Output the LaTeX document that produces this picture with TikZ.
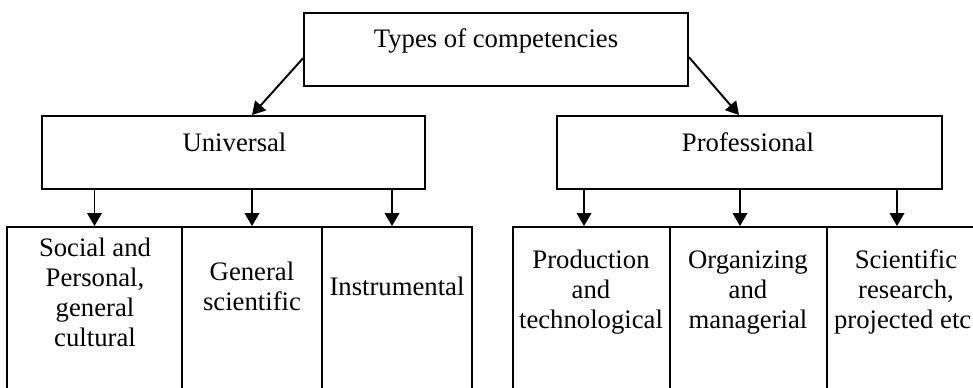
\documentclass[tikz,border=0pt]{standalone}
\usepackage{fontspec}
\setmainfont{Liberation Serif}
\usetikzlibrary{arrows.meta}

\begin{document}
\begin{tikzpicture}[
  x=0.02cm, y=-0.02cm,
  box/.style={rectangle, draw, line width=1.1pt, inner sep=0pt, minimum height=1.46cm},
  cell/.style={rectangle, draw, line width=1.1pt, inner sep=0pt, minimum height=4cm},
  txt/.style={inner sep=0pt, align=center, font=\fontsize{15.2}{17.1}\selectfont},
  arr/.style={-{Triangle[length=2.6mm, width=2.9mm]}, line width=1.1pt}
]
\useasboundingbox (0,0) rectangle (973,388);
\clip (0,0) rectangle (973,388);

% Top level
\node[box, minimum width=7.68cm] (root) at (496,49.2) {};
\node[txt, anchor=base] (rootT) at (496,48) {Types of competencies};

% Two groups
\node[box, minimum width=7.66cm] (uni) at (233.5,152.5) {};
\node[txt, anchor=base] (uniT) at (234.5,152) {Universal};
\node[box, minimum width=7.7cm] (pro) at (749.5,152.5) {};
\node[txt, anchor=base] (proT) at (748,152) {Professional};

% Universal competencies (boxes run past the lower edge)
\node[cell, minimum width=3.5cm] (u1) at (94.5,327) {};
\node[cell, minimum width=2.8cm] (u2) at (252,327) {};
\node[cell, minimum width=3cm] (u3) at (397,327) {};
\node[txt] (u1T) at (95,292) {Social and\\Personal,\\general\\cultural};
\node[txt] (u2T) at (252,286.5) {General\\scientific};
\node[txt, anchor=base] (u3T) at (397,295) {Instrumental};

% Professional competencies
\node[cell, minimum width=3.14cm] (p1) at (591.5,327) {};
\node[cell, minimum width=3.14cm] (p2) at (748.5,327) {};
\node[cell, minimum width=3.14cm] (p3) at (905.5,327) {};
\node[txt] (p1T) at (591,292) {Production\\and\\technological};
\node[txt] (p2T) at (748,292.5) {Organizing\\and\\managerial};
\node[txt] (p3T) at (906,292) {Scientific\\research,\\projected etc.};

% Arrows
\draw[arr] ([yshift=-0.18cm]root.west) -- ([xshift=0.37cm]uni.north);
\draw[arr] ([yshift=-0.16cm]root.east) -- ([xshift=-0.21cm]pro.north);

\draw[arr] (uni.south -| u1.north) -- (u1.north);
\draw[arr] (uni.south -| u2.north) -- (u2.north);
\draw[arr] ([xshift=-0.1cm]uni.south -| u3.north) -- ([xshift=-0.1cm]u3.north);

\draw[arr] ([xshift=-0.15cm]pro.south -| p1.north) -- ([xshift=-0.15cm]p1.north);
\draw[arr] ([xshift=-0.17cm]pro.south -| p2.north) -- ([xshift=-0.17cm]p2.north);
\draw[arr] ([xshift=-0.17cm]pro.south -| p3.north) -- ([xshift=-0.17cm]p3.north);

\end{tikzpicture}
\end{document}
